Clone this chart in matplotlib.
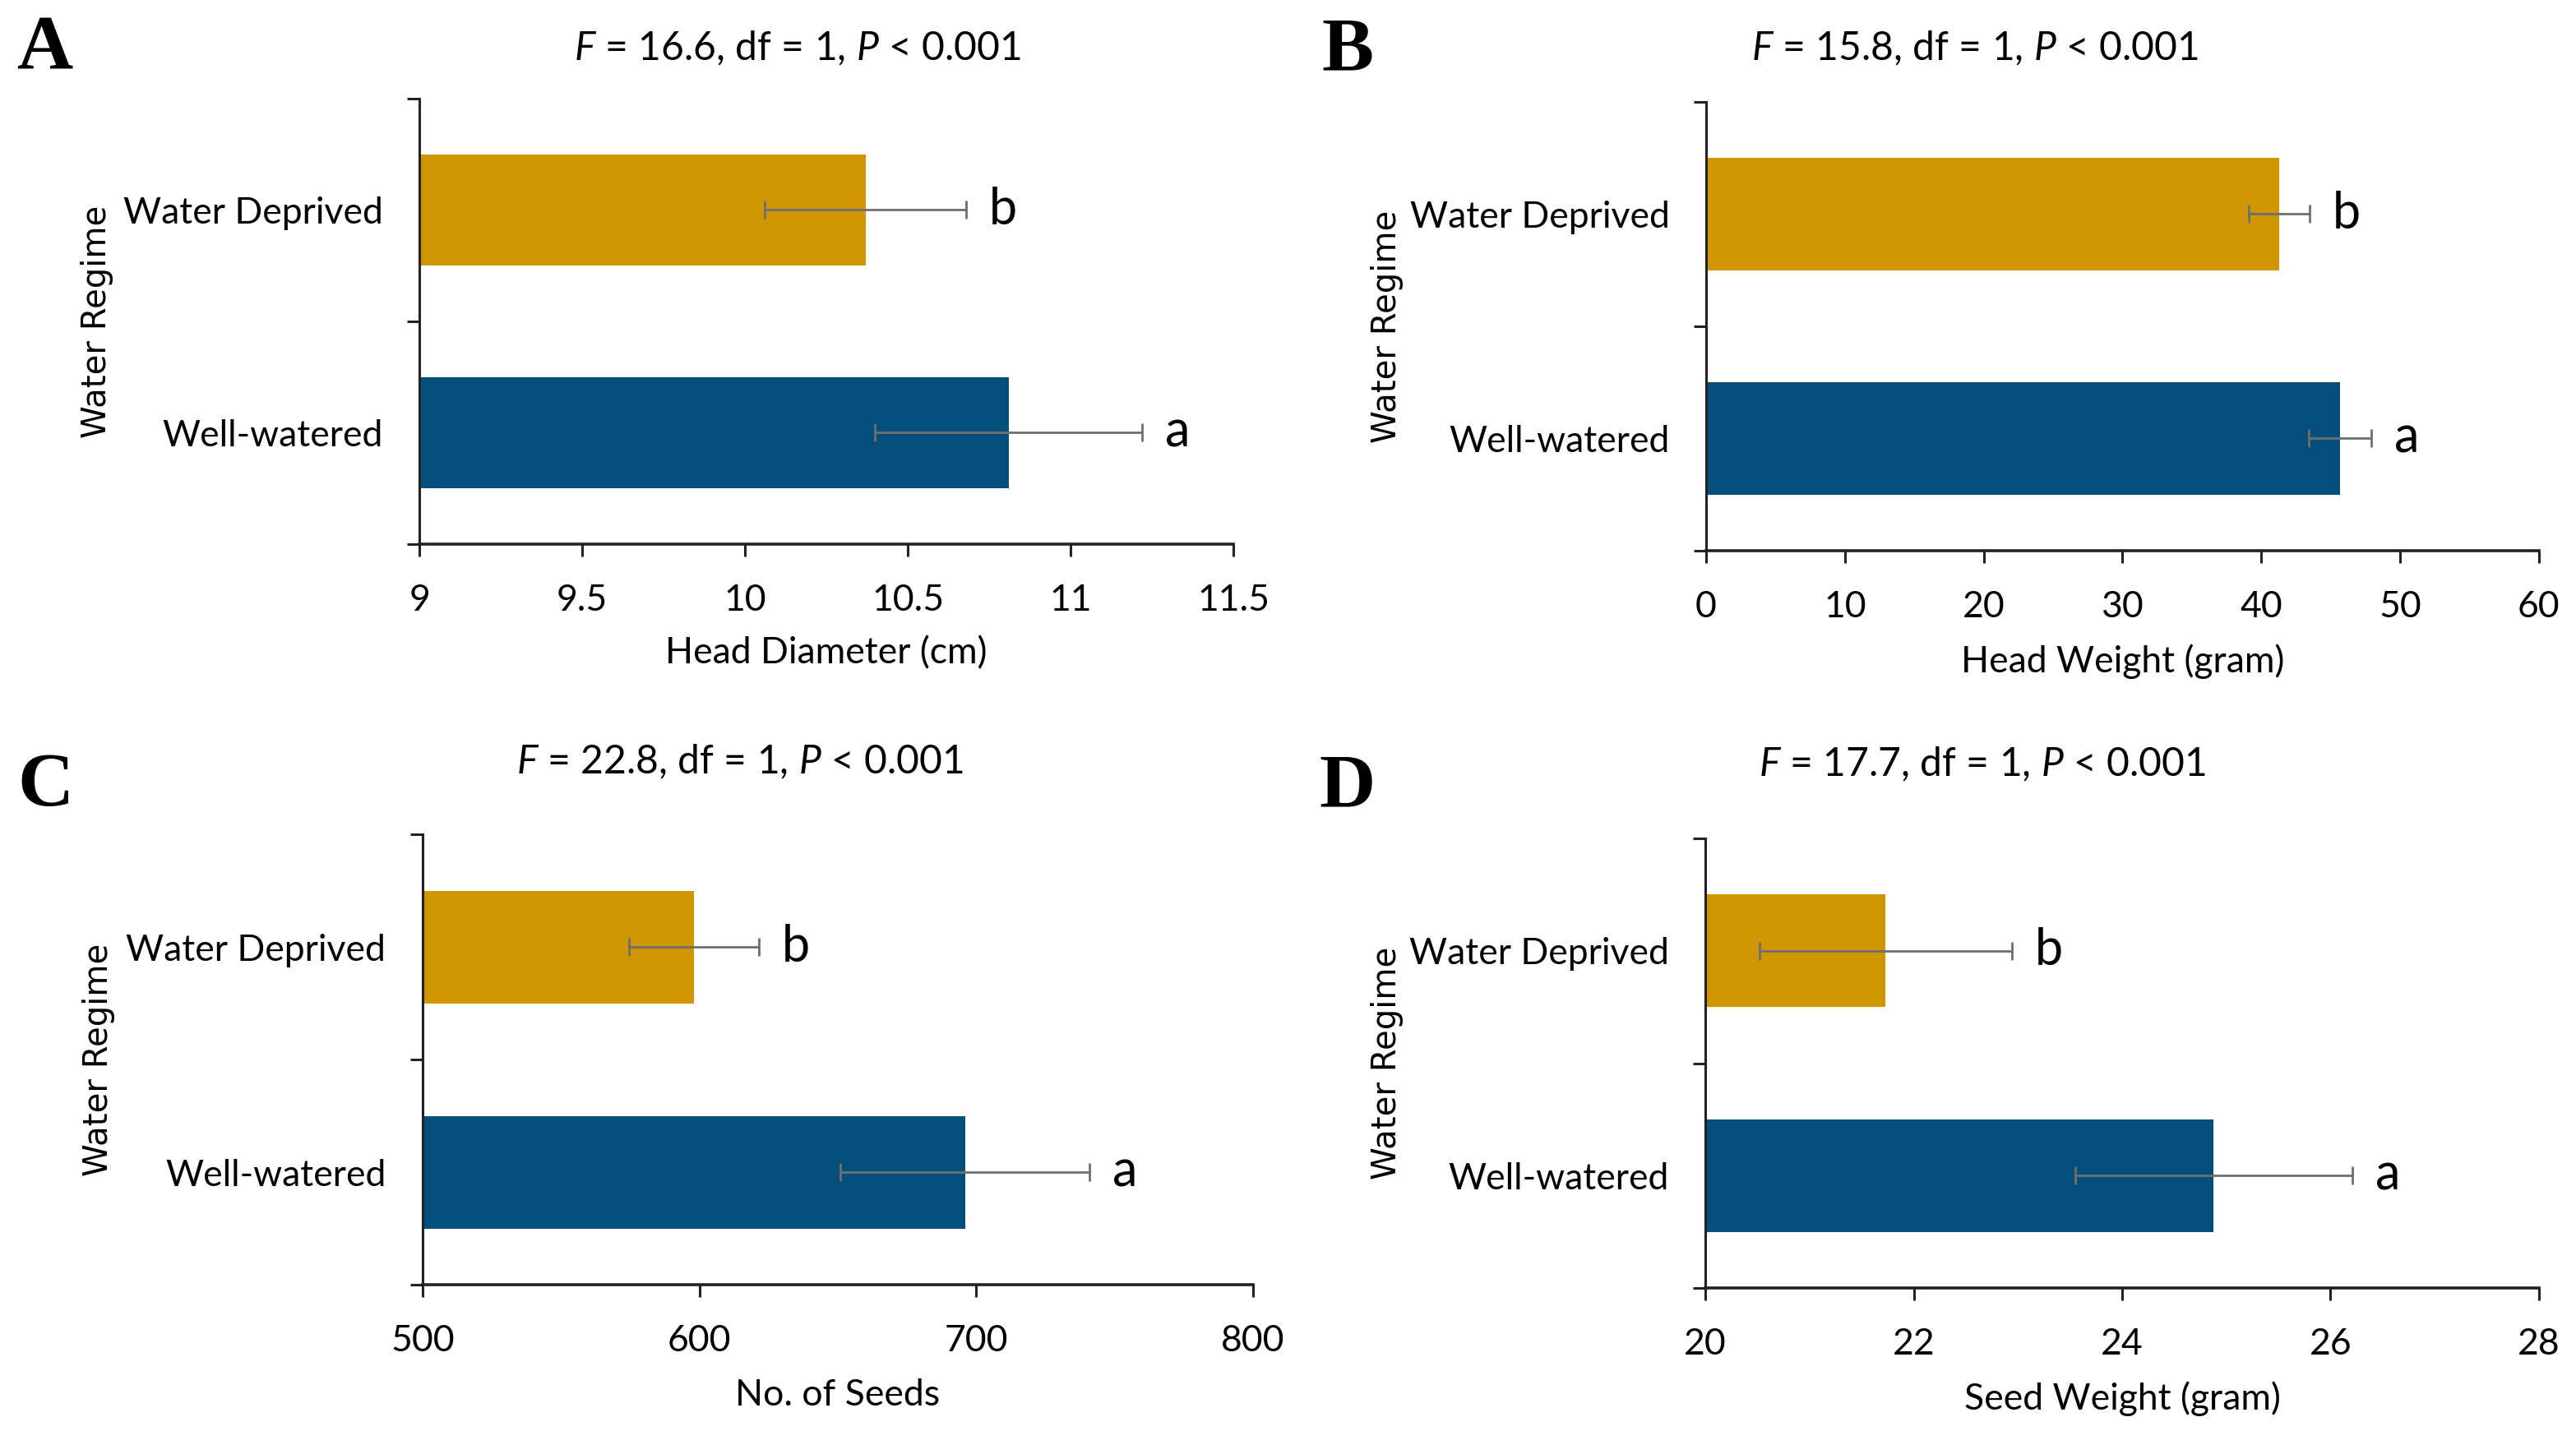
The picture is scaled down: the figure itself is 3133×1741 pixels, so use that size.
import numpy as np
import matplotlib
matplotlib.use("Agg")
import matplotlib.pyplot as plt
from matplotlib.ticker import FixedLocator

plt.rcParams['font.family'] = ['Lato', 'DejaVu Sans']
plt.rcParams['mathtext.fontset'] = 'custom'
plt.rcParams['mathtext.rm'] = 'Lato'
plt.rcParams['mathtext.it'] = 'Lato:italic'

# data
categories = ["Well-watered", "Water Deprived"]
sig_letters = ["a", "b"]

diam_mean = [10.81, 10.37]
diam_err = [0.41, 0.31]
headw_mean = [45.7, 41.3]
headw_err = [2.25, 2.2]
seeds_mean = [696, 598]
seeds_err = [45, 23.5]
seedw_mean = [24.88, 21.73]
seedw_err = [1.33, 1.21]

f_values = ["16.6", "15.8", "22.8", "17.7"]
panel_names = ["A", "B", "C", "D"]
x_labels = ["Head Diameter (cm)", "Head Weight (gram)", "No. of Seeds", "Seed Weight (gram)"]
x_ticks = [[9, 9.5, 10, 10.5, 11, 11.5],
           [0, 10, 20, 30, 40, 50, 60],
           [500, 600, 700, 800],
           [20, 22, 24, 26, 28]]
x_ticklabels = [["9", "9.5", "10", "10.5", "11", "11.5"],
                ["0", "10", "20", "30", "40", "50", "60"],
                ["500", "600", "700", "800"],
                ["20", "22", "24", "26", "28"]]
means = [diam_mean, headw_mean, seeds_mean, seedw_mean]
errs = [diam_err, headw_err, seeds_err, seedw_err]

bar_colors = ["#034e7a", "#d09500"]

fig = plt.figure(figsize=(3133/200, 1741/200), dpi=200)

axes_pos = [[0.1628, 0.6198, 0.316, 0.3113],
            [0.6623, 0.6152, 0.3233, 0.3136],
            [0.1640, 0.1022, 0.3224, 0.3148],
            [0.6620, 0.0999, 0.3236, 0.3142]]
title_pos = [(0.3096, 0.966), (0.7667, 0.966), (0.2873, 0.4675), (0.7695, 0.4658)]
letter_pos = [(0.0172, 0.965), (0.523, 0.964), (0.0176, 0.4503), (0.523, 0.4492)]
ylab_x = [-0.376, -0.363, -0.370, -0.362]

for i in range(4):
    ax = fig.add_axes(axes_pos[i])
    y = np.arange(len(categories))
    ax.barh(y, means[i], height=0.5, color=bar_colors, left=0, zorder=2)
    ax.errorbar(means[i], y, xerr=errs[i], fmt='none', ecolor='#6f6f6f',
                elinewidth=1.0, capsize=4, capthick=1.0, zorder=3)
    for j in range(len(categories)):
        ax.annotate(sig_letters[j], (means[i][j] + errs[i][j], y[j]),
                    xytext=(10, 0), textcoords='offset points',
                    ha='left', va='center', fontsize=22)

    ax.set_xlim(x_ticks[i][0], x_ticks[i][-1])
    ax.set_ylim(-0.5, 1.5)
    ax.set_xticks(x_ticks[i])
    ax.set_xticklabels(x_ticklabels[i], fontsize=16)
    ax.set_yticks(y)
    ax.set_yticklabels(categories, fontsize=16)
    ax.yaxis.set_minor_locator(FixedLocator([-0.5, 0.5, 1.5]))
    ax.tick_params(axis='y', which='major', length=0, pad=16)
    ax.tick_params(axis='y', which='minor', length=5.4, width=1.1, color='#222222')
    ax.tick_params(axis='x', which='major', length=5.4, width=1.1, color='#222222', pad=12)

    for s in ['top', 'right']:
        ax.spines[s].set_visible(False)
    ax.spines['left'].set_linewidth(1.1)
    ax.spines['left'].set_color('#222222')
    ax.spines['bottom'].set_linewidth(1.3)
    ax.spines['bottom'].set_color('#222222')

    ax.set_xlabel(x_labels[i], fontsize=16)
    ax.xaxis.set_label_coords(0.5, -0.207)
    ax.set_ylabel("Water Regime", fontsize=14.5, family='DejaVu Sans')
    ax.yaxis.set_label_coords(ylab_x[i], 0.5)

    fig.text(title_pos[i][0], title_pos[i][1],
             r"$\mathit{F}$ = " + f_values[i] + r", df = 1, $\mathit{P}$ < 0.001",
             ha='center', va='center', fontsize=17.3)
    fig.text(letter_pos[i][0], letter_pos[i][1], panel_names[i], ha='center', va='center',
             fontsize=34, fontweight='bold', family='Liberation Serif')

fig.savefig("out.png", dpi=200)
